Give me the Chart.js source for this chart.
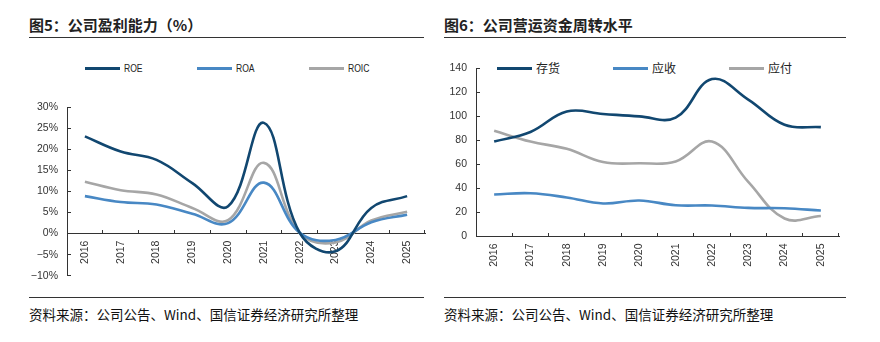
<!DOCTYPE html>
<html>
<head>
<meta charset="utf-8">
<script src="https://cdn.jsdelivr.net/npm/chart.js@4.4.1/dist/chart.umd.min.js"></script>
<style>
  body { margin: 0; background: #fff; width: 880px; height: 342px; position: relative; overflow: hidden;
         font-family: "Noto Sans CJK SC", sans-serif; color: #222; }
  .title { position: absolute; top: 14px; font-size: 15px; font-weight: bold; line-height: 22px; }
  .rule { position: absolute; height: 0; border-top: 1.5px solid #333; }
  .source { position: absolute; top: 305px; font-size: 13.5px; line-height: 18px; color: #111; }
  .legend { position: absolute; height: 16px; font-size: 11px; }
  .legend .item { position: absolute; top: 0; white-space: nowrap; }
  .legend .swatch { position: absolute; top: 7px; left: 0; width: 35px; height: 3px; }
  .legend .label { position: absolute; top: 0; left: 39px; line-height: 16px; }
  .legend.narrow .label { transform: scaleX(0.78); transform-origin: 0 50%; }
  canvas { position: absolute; }
</style>
</head>
<body>
<div class="title" style="left:29px">图5：公司盈利能力（%）</div>
<div class="rule" style="left:29px; top:37px; width:395px"></div>
<div class="title" style="left:444px">图6：公司营运资金周转水平</div>
<div class="rule" style="left:444px; top:37px; width:402px"></div>

<div id="legendLeft" class="legend narrow" style="left:85px; top:60px; font-family:'Liberation Sans',sans-serif;"></div>
<div id="legendRight" class="legend" style="left:497px; top:60px; font-size:12px;"></div>

<canvas id="profitChart" width="440" height="207" style="left:0; top:88px"></canvas>
<canvas id="turnoverChart" width="440" height="226" style="left:440px; top:49px"></canvas>

<div class="rule" style="left:29px; top:297px; width:395px"></div>
<div class="rule" style="left:444px; top:297px; width:402px"></div>
<div class="source" style="left:29px">资料来源：公司公告、Wind、国信证券经济研究所整理</div>
<div class="source" style="left:444px">资料来源：公司公告、Wind、国信证券经济研究所整理</div>

<script>
const years = ['2016', '2017', '2018', '2019', '2020', '2021', '2022', '2023', '2024', '2025'];

// 盈利能力 (%)
const roe  = [23.1, 19.5, 17.5, 12.0, 6.5, 26.3, 0.2, -4.2, 6.1, 8.9];
const roa  = [8.9, 7.5, 6.9, 4.7, 2.5, 12.1, 0.2, -1.5, 2.7, 4.5];
const roic = [12.3, 10.3, 9.3, 6.1, 3.2, 16.8, 0.2, -2.1, 3.1, 5.2];

// 营运资金周转 (天)
const inventory   = [79, 87, 104, 102, 100, 99, 131, 114, 93, 91];
const receivables = [35, 36, 32.5, 27.5, 30, 26, 25.8, 23.8, 23.5, 21.6];
const payables    = [88, 79, 73, 62, 61, 62.5, 79, 45.5, 15, 17];

const profitTicks = [-10, -5, 0, 5, 10, 15, 20, 25, 30];
const turnoverTicks = [0, 20, 40, 60, 80, 100, 120, 140];

const navy = 'rgb(17, 71, 112)';
const blue = 'rgb(72, 136, 196)';
const grey = 'rgb(166, 166, 166)';

const profitSeries = [
  { name: 'ROE', values: roe, color: navy },
  { name: 'ROA', values: roa, color: blue },
  { name: 'ROIC', values: roic, color: grey }
];
const turnoverSeries = [
  { name: '存货', values: inventory, color: navy },
  { name: '应收', values: receivables, color: blue },
  { name: '应付', values: payables, color: grey }
];

Chart.defaults.font.family = "'Liberation Sans', Arial, sans-serif";
Chart.defaults.color = '#333';

function buildLegend(id, series, spacing) {
  const box = document.getElementById(id);
  series.forEach((s, i) => {
    const item = document.createElement('div');
    item.className = 'item';
    item.style.left = (i * spacing) + 'px';
    item.innerHTML = '<div class="swatch" style="background:' + s.color + '"></div>' +
                     '<div class="label">' + s.name + '</div>';
    box.appendChild(item);
  });
}

// tick padding also pads the plot top/bottom (~20px), canvases are offset for that
function makeChart(canvasId, series, ticks, opts) {
  const ctx = document.getElementById(canvasId).getContext('2d');
  return new Chart(ctx, {
    type: 'line',
    data: {
      labels: years,
      datasets: series.map(s => ({
        label: s.name,
        data: s.values,
        borderColor: s.color,
        borderWidth: 2.6,
        pointRadius: 0,
        tension: 0.4,
        fill: false
      }))
    },
    options: {
      responsive: false,
      animation: false,
      devicePixelRatio: 1,
      layout: { padding: opts.padding },
      plugins: { legend: { display: false }, tooltip: { enabled: false } },
      scales: {
        x: {
          position: { y: 0 },
          offset: true,
          grid: { offset: true, drawOnChartArea: false, drawTicks: true, tickLength: -4, color: '#333' },
          border: { display: true, color: '#333', width: 1 },
          ticks: { minRotation: 90, maxRotation: 90, padding: 11, font: { size: opts.xFont }, color: '#333', autoSkip: false }
        },
        y: {
          min: ticks[0],
          max: ticks[ticks.length - 1],
          afterBuildTicks: scale => { scale.ticks = ticks.map(v => ({ value: v })); },
          afterFit: scale => { scale.width = opts.axisWidth; },
          grid: { drawOnChartArea: false, drawTicks: true, tickLength: -4, color: '#333' },
          border: { display: true, color: '#333', width: 1 },
          ticks: {
            padding: 13,
            color: '#333',
            font: { size: opts.yFont },
            callback: opts.format
          }
        }
      }
    }
  });
}

buildLegend('legendLeft', profitSeries, 112);
buildLegend('legendRight', turnoverSeries, 116);

makeChart('profitChart', profitSeries, profitTicks, {
  padding: { top: 0, bottom: 0, left: 0, right: 15 },
  axisWidth: 67,
  xFont: 10.5,
  yFont: 10.5,
  format: v => (v < 0 ? '\u2212' + Math.abs(v) : v) + '%'
});

makeChart('turnoverChart', turnoverSeries, turnoverTicks, {
  padding: { top: 0, bottom: 38.5, left: 0, right: 41 },
  axisWidth: 36,
  xFont: 10.5,
  yFont: 10.5,
  format: v => v
});
</script>
</body>
</html>
